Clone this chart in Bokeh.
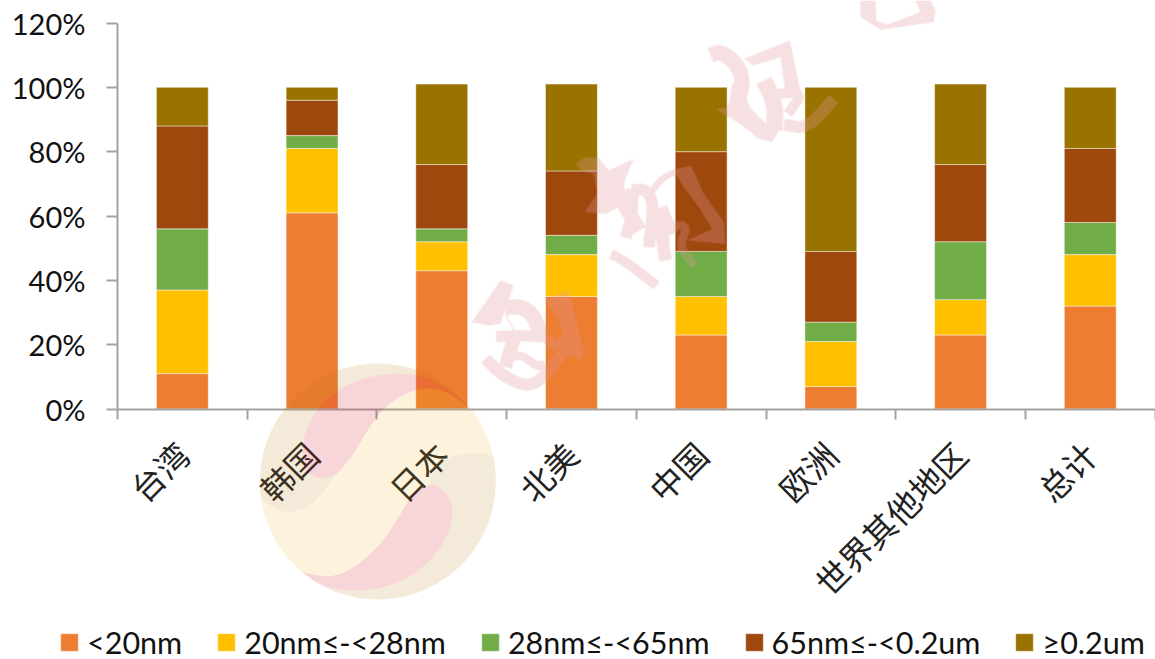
import math
import numpy as np
from bokeh.embed import file_html
from bokeh.resources import INLINE
from bokeh.plotting import figure
from bokeh.models import (ColumnDataSource, Range1d, LinearAxis, FixedTicker, PrintfTickFormatter,
                          Legend, LegendItem, PolyAnnotation)

# Share of capacity by region and process node, in percent
regions = ["台湾", "韩国", "日本", "北美", "中国", "欧洲", "世界其他地区", "总计"]
below_20nm = [11, 61, 43, 35, 23, 7, 23, 32]
from_20_to_28nm = [26, 20, 9, 13, 12, 14, 11, 16]
from_28_to_65nm = [19, 4, 4, 6, 14, 6, 18, 10]
from_65nm_to_02um = [32, 11, 20, 20, 31, 22, 24, 23]
above_02um = [12, 4, 25, 27, 20, 51, 25, 19]

series_names = ["<20nm", "20nm≤-<28nm", "28nm≤-<65nm", "65nm≤-<0.2um", "≥0.2um"]
series_colors = ["#ED7D31", "#FFC000", "#70AD47", "#9E480E", "#997300"]
y_ticks = [0, 20, 40, 60, 80, 100, 120]

AXIS_COLOR = "#a3a3a3"
TEXT_COLOR = "#111111"
WIDTH, HEIGHT = 1155, 659

# The frame fills the whole canvas so the legend and watermark can sit anywhere;
# these constants place the axes inside it.
ORIGIN_X, ORIGIN_Y = 117.0, 408.5
PX_PER_REGION = 129.7
PX_PER_PERCENT = 386.0 / 120

centers = [i + 0.5 for i in range(len(regions))]
edges = list(range(len(regions) + 1))

source = ColumnDataSource(dict(x=centers, a=below_20nm, b=from_20_to_28nm, c=from_28_to_65nm,
                               d=from_65nm_to_02um, e=above_02um))

p = figure(width=WIDTH, height=HEIGHT, output_backend="svg", toolbar_location=None,
           x_range=Range1d(-ORIGIN_X / PX_PER_REGION, (WIDTH - ORIGIN_X) / PX_PER_REGION),
           y_range=Range1d((ORIGIN_Y - HEIGHT) / PX_PER_PERCENT, ORIGIN_Y / PX_PER_PERCENT),
           x_axis_location=None, y_axis_location=None,
           min_border_left=0, min_border_right=0, min_border_top=0, min_border_bottom=0,
           outline_line_color=None, background_fill_color="white", border_fill_color="white")
p.grid.visible = False

stack = p.vbar_stack(["a", "b", "c", "d", "e"], x="x", width=0.4, source=source,
                     color=series_colors, line_color="#ffffff", line_alpha=0.45, line_width=1)

# Value axis
y_axis = LinearAxis(ticker=FixedTicker(ticks=y_ticks), formatter=PrintfTickFormatter(format="%d%%"),
                    fixed_location=0, bounds=(0, 120),
                    axis_line_color=AXIS_COLOR, axis_line_width=2,
                    major_tick_line_color=AXIS_COLOR, major_tick_line_width=2,
                    major_tick_out=11, major_tick_in=0, minor_tick_line_color=None,
                    major_label_standoff=21, major_label_text_font="Lato",
                    major_label_text_font_size="29px", major_label_text_color=TEXT_COLOR)
p.add_layout(y_axis, "left")

# Region axis: names at the bar centres, tick marks on the boundaries between regions
x_axis = LinearAxis(ticker=FixedTicker(ticks=centers, minor_ticks=edges),
                    major_label_overrides=dict(zip(centers, regions)),
                    fixed_location=0, bounds=(0, len(regions)),
                    axis_line_color=AXIS_COLOR, axis_line_width=2,
                    major_tick_line_color=None,
                    minor_tick_line_color=AXIS_COLOR, minor_tick_line_width=2,
                    minor_tick_out=10, minor_tick_in=0,
                    major_label_orientation=math.pi / 4, major_label_standoff=29,
                    major_label_text_font="Noto Sans CJK SC",
                    major_label_text_font_size="33px", major_label_text_color="#222222")
p.add_layout(x_axis, "below")

legend = Legend(items=[LegendItem(label=n, renderers=[r]) for n, r in zip(series_names, stack)],
                orientation="horizontal", location=(58, -1), border_line_color=None,
                background_fill_alpha=0, margin=0, padding=0, spacing=33,
                glyph_width=22, glyph_height=22, label_standoff=7, label_height=22,
                label_text_font="Lato", label_text_font_size="30.5px", label_text_color=TEXT_COLOR)
p.add_layout(legend, "center")


def smooth(points, rounds=2):
    """Corner-cut an open polyline, keeping both of its end points."""
    pts = [tuple(q) for q in points]
    for _ in range(rounds):
        out = [pts[0]]
        for (x0, y0), (x1, y1) in zip(pts, pts[1:]):
            out.append((0.75 * x0 + 0.25 * x1, 0.75 * y0 + 0.25 * y1))
            out.append((0.25 * x0 + 0.75 * x1, 0.25 * y0 + 0.75 * y1))
        out.append(pts[-1])
        pts = out
    return pts


# Round seal of the watermark: its regions share their borders and never overlap
def on_rim(angle):
    t = math.radians(angle)
    return (412 + 354 * math.cos(t), 393 + 354 * math.sin(t))


def rim(a0, a1):
    return [on_rim(a) for a in np.linspace(a0, a1, 60)]


def wash(points, color, alpha):
    p.add_layout(PolyAnnotation(xs=[240 + x / 3 for x, _ in points], ys=[350 + y / 3 for _, y in points],
                                xs_units="canvas", ys_units="canvas",
                                fill_color=color, fill_alpha=alpha, line_color=None))


A, C, D, G = on_rim(-38), on_rim(-188), on_rim(132), on_rim(-13)
B, F = (290, 370), (575, 400)
top_inner = smooth([A, (600, 110), (510, 118), (430, 170), (380, 240), (340, 310), B])
top_outer = smooth([A, (620, 108), (530, 68), (400, 72), (290, 115), (210, 200), (185, 280), (190, 360),
                    (240, 388), B])
tail = smooth([B, (225, 455), (170, 485), (110, 482), C])
low_inner = smooth([D, (190, 668), (280, 682), (360, 640), (430, 570), (480, 490), (520, 425), F])
low_outer = smooth([F, (620, 425), (640, 480), (625, 550), (580, 620), (510, 680), (420, 715), (320, 722),
                    (240, 705), D])
head = smooth([F, (565, 385), (610, 325), (680, 305), G])

CREAM, BEIGE, PINK = ("#f2af1c", 0.15), ("#ba7c11", 0.16), ("#dc2d3c", 0.20)
wash(top_inner + tail + rim(172, 132) + low_inner + head + rim(-13, -38), *CREAM)
wash(rim(-38, -188) + tail[::-1] + top_outer[::-1], *BEIGE)
wash(rim(132, -13) + head[::-1] + low_outer, *BEIGE)
wash(top_inner + top_outer[::-1], *PINK)
wash(low_inner + low_outer, *PINK)


# Brush signature of the watermark: blobs and strokes merged into a single soft mask
def brush(points, width):
    """Split a stroke of constant width along a polyline into quads."""
    pts = np.array(smooth(points), dtype=float)
    d = np.gradient(pts, axis=0)
    d /= np.linalg.norm(d, axis=1, keepdims=True) + 1e-9
    n = np.column_stack([-d[:, 1], d[:, 0]]) * width / 2
    return [np.array([pts[i] + n[i], pts[i + 1] + n[i + 1], pts[i + 1] - n[i + 1], pts[i] - n[i]])
            for i in range(len(pts) - 1)]


left_blobs = [
    [(105, 390), (145, 405), (125, 460), (105, 520), (70, 525), (18, 515)],
    [(240, 445), (308, 420), (330, 500), (357, 610), (310, 590), (298, 570), (275, 500), (250, 470)],
    [(330, 40), (360, 20), (400, 22), (430, 60), (505, 25), (480, 85), (460, 170), (420, 190), (358, 185),
     (395, 130), (385, 70), (350, 60)],
    [(625, 60), (680, 52), (715, 130), (775, 215), (778, 280), (665, 270), (740, 235), (700, 170), (655, 110)],
]
left_strokes = [
    ([(120, 470), (190, 470), (232, 560)], 46),
    ([(120, 490), (150, 550)], 4),
    ([(92, 558), (180, 555), (245, 560)], 34),
    ([(150, 555), (130, 610), (120, 650)], 40),
    ([(125, 622), (170, 612), (215, 650), (238, 640)], 26),
    ([(60, 625), (110, 675), (190, 712), (245, 670), (300, 590), (350, 612)], 36),
    ([(245, 560), (265, 590), (300, 570)], 32),
    ([(430, 70), (480, 170), (522, 240)], 44),
    ([(500, 120), (545, 115), (565, 170), (550, 290)], 36),
    ([(480, 262), (500, 200), (500, 115)], 36),
    ([(590, 180), (590, 260), (600, 330)], 38),
    ([(590, 170), (622, 250)], 32),
    ([(560, 120), (600, 72), (680, 55)], 20),
    ([(627, 225), (668, 225), (640, 290), (688, 345)], 26),
    ([(437, 310), (490, 340), (573, 405)], 30),
]
right_blobs = [
    [(130, 175), (268, 120), (285, 200), (300, 275), (255, 280), (240, 170), (160, 195)],
    [(45, 325), (120, 318), (215, 380), (240, 380), (215, 425), (180, 415), (110, 365)],
    [(480, 0), (480, 50), (540, 88), (700, 65), (705, 30), (690, 0), (645, 0), (660, 35), (560, 72), (527, 60),
     (525, 0)],
]
right_strokes = [
    ([(30, 165), (60, 152), (110, 190), (130, 250), (100, 330)], 46),
    ([(120, 250), (110, 320), (190, 398)], 50),
    ([(190, 240), (225, 310), (220, 390)], 50),
    ([(250, 372), (320, 385), (400, 295)], 36),
    ([(230, 280), (310, 275), (262, 340)], 30),
]


def to_canvas(shape, ox, oy):
    return np.asarray(shape, dtype=float) / 3 + (ox, oy)


shapes = [to_canvas(b, 465, 150) for b in left_blobs]
shapes += [to_canvas(q, 465, 150) for pts, w in left_strokes for q in brush(pts, w)]
shapes += [to_canvas(b, 700, 0) for b in right_blobs]
shapes += [to_canvas(q, 700, 0) for pts, w in right_strokes for q in brush(pts, w)]

# Rasterise the union at three samples per pixel, then average down for soft edges
MASK_X, MASK_W, MASK_H, SS = 460, 500, 400, 3
mask = np.zeros((MASK_H * SS, MASK_W * SS), dtype=bool)
for shape in shapes:
    col0 = max(int((shape[:, 0].min() - MASK_X) * SS) - 1, 0)
    col1 = min(int((shape[:, 0].max() - MASK_X) * SS) + 2, MASK_W * SS)
    row0 = max(int(shape[:, 1].min() * SS) - 1, 0)
    row1 = min(int(shape[:, 1].max() * SS) + 2, MASK_H * SS)
    if col1 <= col0 or row1 <= row0:
        continue
    gx, gy = np.meshgrid(MASK_X + (np.arange(col0, col1) + 0.5) / SS, (np.arange(row0, row1) + 0.5) / SS)
    inside = np.zeros(gx.shape, dtype=bool)
    for (x0, y0), (x1, y1) in zip(shape, np.roll(shape, -1, axis=0)):
        if y0 == y1:
            continue
        inside ^= ((y0 > gy) != (y1 > gy)) & (gx < x0 + (gy - y0) * (x1 - x0) / (y1 - y0))
    mask[row0:row1, col0:col1] |= inside

coverage = mask.reshape(MASK_H, SS, MASK_W, SS).mean(axis=(1, 3))
rgba = np.zeros((MASK_H, MASK_W, 4), dtype=np.uint8)
rgba[..., :3] = (225, 150, 155)
rgba[..., 3] = (coverage * 0.3 * 255).astype(np.uint8)
signature = rgba[::-1].view(dtype=np.uint32).reshape(MASK_H, MASK_W)
p.image_rgba(image=[signature],
             x=(MASK_X - ORIGIN_X) / PX_PER_REGION, y=(ORIGIN_Y - MASK_H) / PX_PER_PERCENT,
             dw=MASK_W / PX_PER_REGION, dh=MASK_H / PX_PER_PERCENT)

open("out.html", "w").write(file_html(p, INLINE))
